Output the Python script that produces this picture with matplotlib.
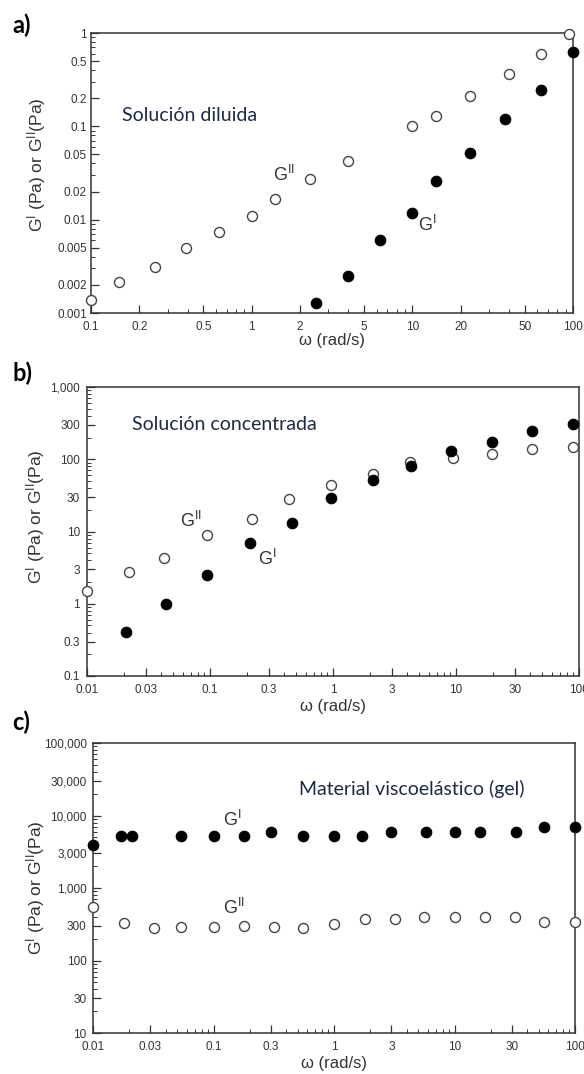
import matplotlib
matplotlib.use("Agg")
import matplotlib.pyplot as plt
from matplotlib.ticker import LogLocator, NullFormatter

plt.rcParams['font.family'] = ['Liberation Sans', 'DejaVu Sans']
plt.rcParams['mathtext.fontset'] = 'custom'
plt.rcParams['mathtext.rm'] = 'Liberation Sans'
plt.rcParams['mathtext.it'] = 'Liberation Sans:italic'

# a) solucion diluida
w_a_g2 = [0.1, 0.149, 0.25, 0.39, 0.63, 1.0, 1.4, 2.3, 4.0, 10, 14, 22.8, 40, 63, 94]
g2_a = [0.00138, 0.00215, 0.0031, 0.005, 0.0074, 0.011, 0.0168, 0.027, 0.043,
        0.1, 0.13, 0.21, 0.36, 0.59, 0.97]
w_a_g1 = [2.5, 4.0, 6.3, 10, 14, 22.8, 38, 63, 100]
g1_a = [0.00128, 0.0025, 0.006, 0.0119, 0.026, 0.052, 0.12, 0.245, 0.63]

# b) solucion concentrada
w_b_g2 = [0.01, 0.022, 0.042, 0.095, 0.22, 0.44, 0.96, 2.1, 4.2, 9.4, 19.6, 41.5, 89]
g2_b = [1.5, 2.75, 4.3, 8.9, 14.8, 28, 44, 62, 91, 104, 118, 138, 148]
w_b_g1 = [0.0207, 0.044, 0.095, 0.21, 0.46, 0.96, 2.1, 4.3, 9.1, 19.6, 41.5, 89]
g1_b = [0.41, 1.0, 2.5, 6.9, 13, 29, 51, 80, 129, 173, 245, 306]

# c) gel
w_c_g1 = [0.01, 0.017, 0.021, 0.054, 0.1, 0.18, 0.30, 0.55, 1.0, 1.7, 3.0, 5.8,
          10, 16.3, 32.5, 55, 100]
g1_c = [3900, 5250, 5250, 5250, 5250, 5250, 5900, 5250, 5250, 5250, 5900, 5900,
        5900, 5900, 5900, 6900, 6900]
w_c_g2 = [0.01, 0.018, 0.032, 0.054, 0.1, 0.18, 0.32, 0.55, 1.0, 1.8, 3.2, 5.6,
          10, 18, 32, 55, 100]
g2_c = [545, 330, 280, 290, 290, 300, 290, 280, 320, 375, 375, 400, 400, 400,
        400, 340, 340]

xt_a = [0.1, 0.2, 0.5, 1, 2, 5, 10, 20, 50, 100]
xl_a = ['0.1', '0.2', '0.5', '1', '2', '5', '10', '20', '50', '100']
yt_a = [0.001, 0.002, 0.005, 0.01, 0.02, 0.05, 0.1, 0.2, 0.5, 1]
yl_a = ['0.001', '0.002', '0.005', '0.01', '0.02', '0.05', '0.1', '0.2', '0.5', '1']
xt_bc = [0.01, 0.03, 0.1, 0.3, 1, 3, 10, 30, 100]
xl_bc = ['0.01', '0.03', '0.1', '0.3', '1', '3', '10', '30', '100']
yt_b = [0.1, 0.3, 1, 3, 10, 30, 100, 300, 1000]
yl_b = ['0.1', '0.3', '1', '3', '10', '30', '100', '300', '1,000']
yt_c = [10, 30, 100, 300, 1000, 3000, 10000, 30000, 100000]
yl_c = ['10', '30', '100', '300', '1,000', '3,000', '10,000', '30,000', '100,000']

W, H = 584, 1074
fig = plt.figure(figsize=(W / 100, H / 100), dpi=100)

def caja(l, r, t, b):
    return fig.add_axes([l / W, 1 - b / H, (r - l) / W, (b - t) / H])

gris = '#333333'
ylab = r'G$^{\rm I}$ (Pa) or G$^{\rm II}$(Pa)'

def preparar(ax, xl, xt, xlab, ypad, yt, ylab_, ylpos):
    ax.set_xscale('log')
    ax.set_yscale('log')
    ax.set_xlim(xt[0], xt[-1])
    ax.set_ylim(yt[0], yt[-1])
    ax.set_xticks(xt, xlab)
    ax.set_yticks(yt, ylab_)
    ax.xaxis.set_minor_locator(LogLocator(base=10, subs=range(2, 10), numticks=50))
    ax.yaxis.set_minor_locator(LogLocator(base=10, subs=range(2, 10), numticks=50))
    ax.xaxis.set_minor_formatter(NullFormatter())
    ax.yaxis.set_minor_formatter(NullFormatter())
    ax.tick_params(which='both', direction='in', colors=gris, labelsize=8.5,
                   top=False, right=False)
    ax.tick_params(axis='x', which='major', pad=5.5)
    ax.tick_params(axis='y', which='major', pad=ypad)
    ax.tick_params(which='major', length=6, width=0.9)
    ax.tick_params(which='minor', length=3, width=0.7)
    for s in ax.spines.values():
        s.set_color(gris)
        s.set_linewidth(1.1)
    ax.set_xlabel('ω (rad/s)', fontsize=12, color=gris)
    ax.xaxis.label.set_va('center')
    ax.xaxis.set_label_coords(0.5, xl)
    ax.set_ylabel(ylab, fontsize=12.5, color=gris)
    ax.yaxis.label.set_va('center')
    ax.yaxis.set_label_coords(ylpos[0], ylpos[1])

def puntos(ax, x1, y1, x2, y2):
    ax.plot(x2, y2, 'o', ms=7.2, mfc='white', mec='#444444', mew=1.0,
            linestyle='none', clip_on=False, zorder=3)
    ax.plot(x1, y1, 'o', ms=7.6, mfc='black', mec='black', mew=0.8,
            linestyle='none', clip_on=False, zorder=4)

azul = '#1c2b45'
g1 = r'G$^{\rm I}$'
g2 = r'G$^{\rm II}$'
tam_t = 14
tam_g = 13

# panel a
ax = caja(91, 573, 33, 313)
preparar(ax, -0.1, xt_a, xl_a, 3, yt_a, yl_a, (-0.114, 0.53))
puntos(ax, w_a_g1, g1_a, w_a_g2, g2_a)
ax.text(0.064, 0.707, 'Solución diluida', transform=ax.transAxes, fontsize=tam_t,
        color=azul, family='Lato', va='center')
ax.text(0.378, 0.493, g2, transform=ax.transAxes, fontsize=tam_g, color=gris, va='center')
ax.text(0.678, 0.314, g1, transform=ax.transAxes, fontsize=tam_g, color=gris, va='center')

# panel b
ax = caja(87, 579, 387, 676)
preparar(ax, -0.106, xt_bc, xl_bc, 5, yt_b, yl_b, (-0.104, 0.55))
puntos(ax, w_b_g1, g1_b, w_b_g2, g2_b)
ax.text(0.091, 0.869, 'Solución concentrada', transform=ax.transAxes, fontsize=tam_t,
        color=azul, family='Lato', va='center')
ax.text(0.189, 0.536, g2, transform=ax.transAxes, fontsize=tam_g, color=gris, va='center')
ax.text(0.348, 0.405, g1, transform=ax.transAxes, fontsize=tam_g, color=gris, va='center')

# panel c
ax = caja(93, 575, 743, 1033)
preparar(ax, -0.105, xt_bc, xl_bc, 4.5, yt_c, yl_c, (-0.12, 0.5))
puntos(ax, w_c_g1, g1_c, w_c_g2, g2_c)
ax.text(0.427, 0.841, 'Material viscoelástico (gel)', transform=ax.transAxes,
        fontsize=tam_t, color=azul, family='Lato', va='center')
ax.text(0.27, 0.734, g1, transform=ax.transAxes, fontsize=tam_g, color=gris, va='center')
ax.text(0.27, 0.431, g2, transform=ax.transAxes, fontsize=tam_g, color=gris, va='center')

for lab, yc in [('a)', 25), ('b)', 373), ('c)', 722)]:
    fig.text(12 / W, 1 - yc / H, lab, fontsize=17, fontweight='bold', family='Lato',
             va='center', ha='left', color='black')

fig.savefig('out.png', dpi=100)
